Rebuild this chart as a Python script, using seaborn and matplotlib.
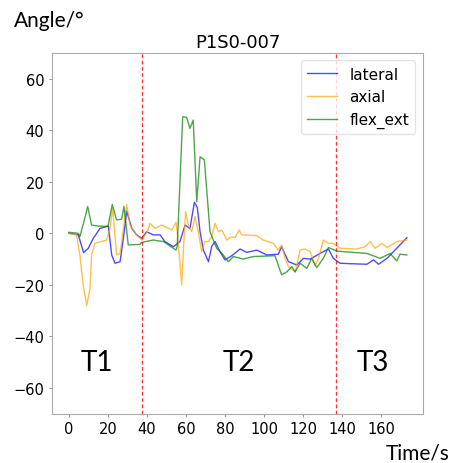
import numpy as np
import pandas as pd
import matplotlib
matplotlib.use('Agg')
import matplotlib.pyplot as plt
import seaborn as sns

# lateral angle
lateral_t = [0, 4.8, 7.5, 9.9, 12.5, 15.9, 20.2, 21.9, 23.6, 26.2, 27.9, 29.6, 32.2, 34.7, 37.3,
             39.8, 43.2, 46.7, 49.2, 53.5, 56.9, 59.5, 62.0, 64.3, 65.8, 67.2, 68.9, 71.5, 73.2,
             74.9, 77.4, 80.0, 83.4, 87.7, 91.1, 96.3, 101.4, 107.3, 109.0, 112.5, 116.8, 120.2,
             123.6, 128.7, 133.0, 135.5, 138.9, 145.0, 152.7, 156.1, 158.7, 163.0, 168.0, 173.2]
lateral_v = [0, -0.6, -7.5, -5.8, -1.9, 1.9, 2.8, -8.4, -11.6, -11.0, -1.9, 8.6, 1.9, -0.6, -1.9,
             0.6, -0.6, -0.6, -3.2, -5.2, -3.2, 3.2, 1.9, 12.0, 10.0, 0.6, -6.5, -11.0, -5.0,
             -3.2, -7.1, -10.3, -8.7, -6.1, -7.4, -6.5, -8.4, -8.1, -5.2, -11.0, -12.3, -9.7,
             -10.0, -7.8, -6.1, -9.7, -11.6, -11.8, -12.0, -10.3, -12.0, -9.7, -5.8, -1.7]

# axial angle
axial_t = [0, 3.9, 5.6, 7.3, 9.1, 10.8, 11.6, 13.3, 19.3, 21.0, 22.4, 24.4, 26.2, 27.9, 29.6,
           31.3, 34.7, 37.3, 40.2, 41.5, 44.1, 47.5, 52.7, 54.9, 56.0, 57.8, 58.6, 59.8, 61.2,
           62.9, 64.6, 66.3, 68.0, 69.7, 71.4, 73.2, 74.9, 76.6, 78.3, 80.9, 83.4, 85.2, 87.3,
           88.5, 96.3, 99.6, 104.8, 107.3, 109.0, 110.8, 112.5, 115.9, 118.5, 121.0, 123.6,
           126.2, 127.9, 130.4, 133.0, 135.5, 138.9, 147.5, 151.8, 154.4, 156.9, 160.4, 163.0,
           168.0, 173.2]
axial_v = [0, -0.6, -8.4, -20.0, -28.0, -21.3, -8.4, -3.9, -2.6, 1.9, 9.7, -8.4, -7.8, 1.9, 11.2,
           3.2, -0.6, -2.6, 0.6, 3.9, 1.9, 3.2, 1.3, 4.3, -3.2, -20.0, -7.0, 8.4, 3.2,
           0.6, 6.5, 0.6, -7.1, -3.2, -3.2, -1.3, 3.9, 0.6, 1.3, -2.6, -1.3, -1.7, 1.3,
           -0.6, -0.9, -2.6, -3.9, -6.5, -4.5, -9.7, -12.9, -14.9, -6.5, -6.1, -7.1,
           -12.5, -9.7, -2.6, -3.9, -3.9, -5.8, -6.1, -5.2, -3.2, -5.8, -3.9, -5.5,
           -3.2, -2.6]

# flexion / extension angle
flex_t = [0, 4.8, 5.6, 7.5, 9.6, 11.6, 15.0, 20.0, 22.2, 24.4, 27.0, 28.2, 30.4, 36.4, 37.3,
          43.2, 48.4, 54.9, 55.5, 58.3, 60.3, 62.0, 63.7, 65.5, 67.2, 69.4, 72.3, 75.7, 79.1,
          81.7, 84.3, 89.4, 94.5, 105.6, 109.0, 111.6, 114.2, 115.9, 118.5, 121.9, 124.4,
          127.0, 130.4, 133.0, 137.3, 152.7, 159.5, 164.6, 168.0, 169.7, 173.2]
flex_v = [0.4, 0, -1.3, 4.0, 10.4, 3.2, 2.8, 2.7, 11.2, 5.2, 5.5, 10.4, -4.5, -4.3, -3.5,
          -2.6, -3.2, -6.5, -5.0, 45.2, 45.0, 40.7, 43.9, 12.3, 29.7, 28.5, 0.6, -5.8, -8.4,
          -11.0, -9.0, -10.0, -9.0, -8.7, -16.1, -15.0, -12.9, -15.0, -11.6, -13.6, -9.7,
          -13.3, -9.7, -5.5, -6.9, -7.8, -9.7, -7.8, -10.7, -8.1, -8.4]

series = [('lateral', lateral_t, lateral_v, 'blue'),
          ('axial', axial_t, axial_v, 'orange'),
          ('flex_ext', flex_t, flex_v, 'green')]

phase_bounds = [37.3, 137.0]
phase_labels = ['T1', 'T2', 'T3']
phase_label_x = [14.5, 87, 155.5]

fig = plt.figure(figsize=(4.52, 4.64), dpi=100)
ax = fig.add_axes([0.115, 0.106, 0.821, 0.778])

for name, t, v, col in series:
    df = pd.DataFrame({'Time': t, 'Angle': v})
    sns.lineplot(data=df, x='Time', y='Angle', ax=ax, color=col, alpha=0.7,
                 linewidth=1.0, label=name, estimator=None, sort=False)

for b in phase_bounds:
    ax.axvline(b, color='red', linestyle=(0, (3, 2)), linewidth=0.9, alpha=0.8)

for lab, xx in zip(phase_labels, phase_label_x):
    ax.text(xx, -50, lab, fontsize=20, family=['Lato', 'DejaVu Sans'],
            ha='center', va='center')

ax.set_xlim(-8.7, 181.5)
ax.set_ylim(-70, 70)
ax.set_xticks(range(0, 161, 20))
ax.set_yticks(range(-60, 61, 20))
ax.set_xlabel('')
ax.set_ylabel('')
ax.set_title('P1S0-007', fontsize=13, pad=4)
ax.tick_params(labelsize=10.5, length=2, color='#999999')
for s in ax.spines.values():
    s.set_color('#aaaaaa')

leg = ax.legend(loc='upper right', fontsize=11, frameon=True)
leg.get_frame().set_edgecolor('#dddddd')

fig.text(0.03, 0.955, 'Angle/°', fontsize=15, family=['Lato', 'DejaVu Sans'],
         ha='left', va='center')
fig.text(0.995, 0.022, 'Time/s', fontsize=15, family=['Lato', 'DejaVu Sans'],
         ha='right', va='center')

fig.savefig('out.png', dpi=100)
